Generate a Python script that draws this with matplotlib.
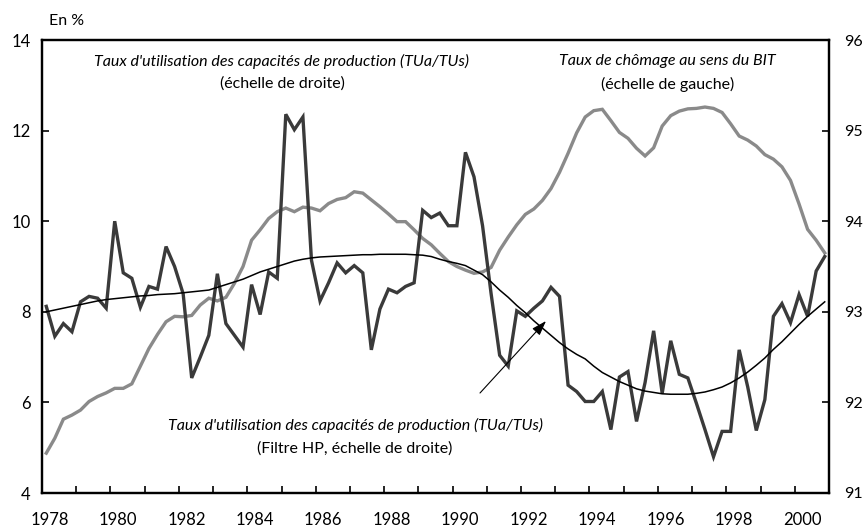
import matplotlib
matplotlib.use("Agg")
import matplotlib.pyplot as plt
import numpy as np

plt.rcParams['font.family'] = ['Lato', 'DejaVu Sans']

# Quarterly data 1978Q1 .. 2000Q4
start_year = 1978
n_quarters = 92

# Taux d'utilisation des capacités de production (échelle de droite)
tuc = [93.06, 92.73, 92.87, 92.78, 93.11, 93.17, 93.15, 93.04,
       94.00, 93.43, 93.37, 93.05, 93.28, 93.25, 93.72, 93.50,
       93.20, 92.27, 92.50, 92.74, 93.42, 92.87, 92.74, 92.61,
       93.30, 92.97, 93.44, 93.37, 95.18, 95.01, 95.15, 93.57,
       93.12, 93.32, 93.54, 93.43, 93.51, 93.43, 92.58, 93.03,
       93.25, 93.21, 93.28, 93.32, 94.12, 94.04, 94.09, 93.95,
       93.95, 94.76, 94.49, 93.95, 93.20, 92.52, 92.40, 93.01,
       92.95, 93.04, 93.12, 93.27, 93.17, 92.19, 92.12, 92.01,
       92.01, 92.12, 91.70, 92.28, 92.34, 91.79, 92.22, 92.79,
       92.10, 92.68, 92.31, 92.27, 91.99, 91.70, 91.40, 91.68,
       91.68, 92.58, 92.17, 91.69, 92.03, 92.95, 93.09, 92.88,
       93.19, 92.95, 93.45, 93.61]

# Filtre HP du TUC (échelle de droite)
tuc_hp = [93.00, 93.02, 93.04, 93.06, 93.08, 93.10, 93.12, 93.135,
          93.145, 93.155, 93.165, 93.175, 93.18, 93.19, 93.195, 93.20,
          93.21, 93.22, 93.23, 93.24, 93.27, 93.30, 93.33, 93.36,
          93.40, 93.44, 93.47, 93.50, 93.53, 93.56, 93.58, 93.595,
          93.605, 93.61, 93.615, 93.62, 93.625, 93.63, 93.63, 93.635,
          93.635, 93.635, 93.635, 93.63, 93.625, 93.61, 93.58, 93.555,
          93.535, 93.51, 93.46, 93.41, 93.33, 93.24, 93.16, 93.07,
          92.99, 92.90, 92.82, 92.74, 92.66, 92.59, 92.53, 92.48,
          92.40, 92.33, 92.28, 92.23, 92.19, 92.15, 92.125, 92.11,
          92.095, 92.09, 92.09, 92.09, 92.10, 92.115, 92.14, 92.17,
          92.215, 92.27, 92.335, 92.41, 92.49, 92.585, 92.67, 92.765,
          92.86, 92.95, 93.03, 93.11]

# Taux de chômage au sens du BIT (échelle de gauche)
chomage = [4.88, 5.21, 5.63, 5.72, 5.83, 6.02, 6.13, 6.21,
           6.31, 6.31, 6.41, 6.80, 7.19, 7.50, 7.78, 7.90,
           7.89, 7.92, 8.15, 8.30, 8.24, 8.32, 8.63, 9.00,
           9.58, 9.81, 10.06, 10.21, 10.29, 10.21, 10.31, 10.29,
           10.23, 10.39, 10.48, 10.52, 10.65, 10.62, 10.47, 10.32,
           10.16, 9.99, 9.99, 9.81, 9.62, 9.48, 9.29, 9.11,
           9.00, 8.92, 8.85, 8.88, 8.98, 9.36, 9.65, 9.92,
           10.15, 10.27, 10.46, 10.72, 11.08, 11.50, 11.95, 12.30,
           12.44, 12.47, 12.22, 11.96, 11.83, 11.61, 11.44, 11.62,
           12.10, 12.33, 12.43, 12.48, 12.49, 12.52, 12.49, 12.40,
           12.15, 11.88, 11.79, 11.66, 11.47, 11.37, 11.20, 10.90,
           10.38, 9.82, 9.58, 9.30]

year_ticks = list(range(1978, 2002))
year_labels = [str(y) for y in range(1978, 2001, 2)]
left_ticks = [4, 6, 8, 10, 12, 14]
right_ticks = [91, 92, 93, 94, 95, 96]

t = start_year + (np.arange(n_quarters) + 0.5) / 4.0

W, H = 863, 529
fig = plt.figure(figsize=(W / 100, H / 100), dpi=100)
ax = fig.add_axes([42 / W, 36 / H, 787 / W, 453 / H])
ax2 = ax.twinx()

ax.plot(t, chomage, color='#8a8a8a', lw=2.4, solid_joinstyle='miter', zorder=2)
ax2.plot(t, tuc, color='#3a3a3a', lw=2.4, solid_joinstyle='miter', zorder=2)
ax2.plot(t, tuc_hp, color='black', lw=1.1, zorder=3)

ax.set_xlim(1978, 2001)
ax.set_ylim(4, 14)
ax2.set_ylim(91, 96)

ax.set_xticks(year_ticks)
ax.set_xticklabels([])
label_pos = [int(s) + 0.22 for s in year_labels]
ax.set_xticks(label_pos, minor=True)
ax.set_xticklabels(year_labels, minor=True)
ax.tick_params(axis='x', which='major', direction='in', length=5, width=1.2)
ax.tick_params(axis='x', which='minor', length=0, pad=14, labelsize=12)

ax.set_yticks(left_ticks)
ax.set_yticklabels([str(v) for v in left_ticks])
ax.tick_params(axis='y', direction='in', length=5, width=1.2, pad=8, labelsize=12)
ax2.set_yticks(right_ticks)
ax2.set_yticklabels([str(v) for v in right_ticks])
ax2.tick_params(axis='y', direction='in', length=5, width=1.2, pad=11, labelsize=11.5)

for a in (ax, ax2):
    for s in a.spines.values():
        s.set_linewidth(1.6)
        s.set_color('black')

def px(x, y):
    return x / W, 1 - y / H

fig.text(*px(49, 21), "En %", fontsize=11.5, ha='left', va='center')

fs = 11.5
fig.text(*px(281, 61), "Taux d'utilisation des capacités de production (TUa/TUs)",
         fontsize=fs, style='italic', ha='center', va='center')
fig.text(*px(282, 84), "(échelle de droite)", fontsize=fs, ha='center', va='center')

fig.text(*px(667, 61), "Taux de chômage au sens du BIT",
         fontsize=fs, style='italic', ha='center', va='center')
fig.text(*px(668, 84), "(échelle de gauche)", fontsize=fs, ha='center', va='center')

fig.text(*px(355, 425), "Taux d'utilisation des capacités de production (TUa/TUs)",
         fontsize=fs, style='italic', ha='center', va='center')
fig.text(*px(355, 449), "(Filtre HP, échelle de droite)", fontsize=fs,
         ha='center', va='center')

ax2.annotate("", xy=px(546, 321), xycoords='figure fraction',
             xytext=px(480, 393), textcoords='figure fraction',
             arrowprops=dict(arrowstyle='-|>,head_length=0.9,head_width=0.3',
                             color='black', lw=0.8, shrinkA=0, shrinkB=0))

fig.savefig("out.png", dpi=100)
